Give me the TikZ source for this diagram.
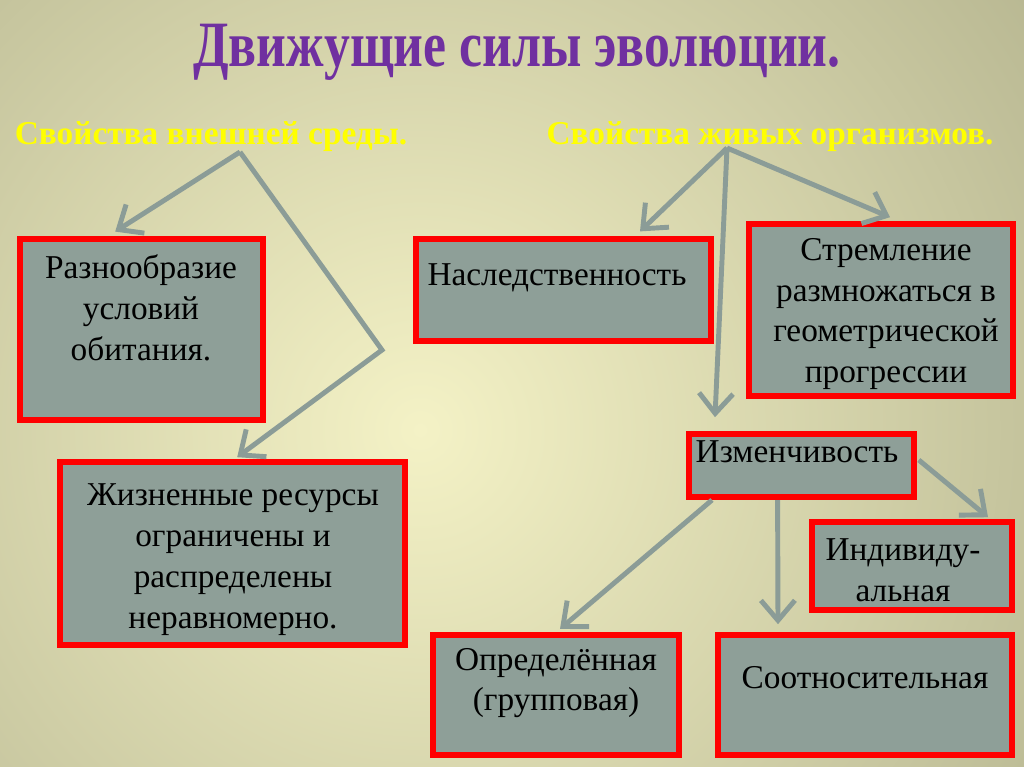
\documentclass[tikz,border=0pt]{standalone}
\usepackage{fontspec}
\setmainfont{Liberation Serif}
\usepackage{tikz}
\usetikzlibrary{arrows.meta,positioning}
\definecolor{evoRed}{HTML}{FF0000}
\definecolor{evoFill}{HTML}{8E9F98}
\definecolor{evoArrow}{HTML}{8B9C97}
\definecolor{evoPurple}{HTML}{7030A0}
\definecolor{evoYellow}{HTML}{FFFF00}
\definecolor{evoLight}{HTML}{F4F2C6}
\definecolor{evoOlive}{HTML}{999977}
\tikzset{
  evo-box/.style={draw=evoRed, fill=evoFill, line width=4pt, inner sep=0pt},
  evo-text/.style={align=center, inner sep=0pt, font=\fontsize{23.7}{29}\selectfont},
  evo-head/.style={text=evoYellow, inner sep=0pt, font=\fontsize{23.7}{29}\selectfont\bfseries},
  evo-arrow/.style={draw=evoArrow, line width=3.5pt, -{Straight Barb[length=0.5cm,width=0.85cm]}}
}
\begin{document}
\begin{tikzpicture}
  \useasboundingbox (0,0) rectangle (25.6,-19.175);
  \begin{scope}
    \clip (0,0) rectangle (25.6,-19.175);
    \shade[inner color=evoLight, outer color=evoOlive] (10.5,-10.75) circle (29cm);
  \end{scope}
  \node[text=evoPurple, inner sep=0pt, font=\fontsize{46}{54}\selectfont\bfseries] (title) at (12.925,-1.3) {\scalebox{0.8}[1]{Движущие силы эволюции.}};
  \node[evo-head] (envhead) at (5.275,-3.425) {Свойства внешней среды.};
  \node[evo-head] (livehead) at (19.25,-3.425) {Свойства живых организмов.};
  \node[evo-box, minimum width=6.08cm, minimum height=4.52cm] (diverse) at (3.54,-8.24) {};
  \node[evo-text] (diversetxt) at (3.525,-7.7) {Разнообразие\\условий\\обитания.};
  \node[evo-box, minimum width=8.62cm, minimum height=4.58cm] (resources) at (5.81,-13.84) {};
  \node[evo-text] (resourcestxt) at (5.825,-13.99) {Жизненные ресурсы\\ограничены и\\распределены\\неравномерно.};
  \node[evo-box, minimum width=7.37cm, minimum height=2.55cm] (heredity) at (14.09,-7.25) {};
  \node[evo-text] (hereditytxt) at (13.925,-6.95) {Наследственность};
  \node[evo-box, minimum width=6.6cm, minimum height=4.3cm] (growth) at (22.03,-7.75) {};
  \node[evo-text] (growthtxt) at (22.15,-7.85) {Стремление\\размножаться в\\геометрической\\прогрессии};
  \node[evo-box, minimum width=5.62cm, minimum height=1.58cm] (variab) at (20.04,-11.64) {};
  \node[evo-text] (variabtxt) at (19.925,-11.3) {Изменчивость};
  \node[evo-box, minimum width=5.0cm, minimum height=2.2cm] (indiv) at (22.8,-14.15) {};
  \node[evo-text] (indivtxt) at (22.575,-14.25) {Индивиду-\\альная};
  \node[evo-box, minimum width=6.15cm, minimum height=3.0cm] (group) at (13.9,-17.375) {};
  \node[evo-text] (grouptxt) at (13.9,-17.075) {Определённая\\(групповая)};
  \node[evo-box, minimum width=7.35cm, minimum height=3.0cm] (correl) at (21.625,-17.375) {};
  \node[evo-text] (correltxt) at (21.625,-16.95) {Соотносительная};
  \coordinate (envfork) at (6.0,-3.8);
  \coordinate (envbend) at (9.55,-8.75);
  \coordinate (livefork) at (18.175,-3.7);
  \draw[evo-arrow] (envfork) -- ([xshift=-0.66cm,yshift=0.12cm]diverse.north);
  \draw[evo-arrow] (envfork) -- (envbend) -- ([xshift=0.12cm,yshift=0.05cm]resources.north);
  \draw[evo-arrow] (livefork) -- ([xshift=1.91cm,yshift=0.12cm]heredity.north);
  \draw[evo-arrow] (livefork) -- ([xshift=0.22cm,yshift=0.1cm]growth.north);
  \draw[evo-arrow] (livefork) -- ([xshift=-2.165cm,yshift=0.35cm]variab.north);
  \draw[evo-arrow] ([xshift=0.05cm,yshift=0.14cm]variab.east) -- ([xshift=1.9cm,yshift=0.05cm]indiv.north);
  \draw[evo-arrow] ([xshift=-2.24cm]variab.south) -- ([xshift=0.1cm,yshift=0.08cm]group.north);
  \draw[evo-arrow] ([xshift=-0.6cm]variab.south) -- ([xshift=-2.175cm,yshift=0.2cm]correl.north);
\end{tikzpicture}
\end{document}
